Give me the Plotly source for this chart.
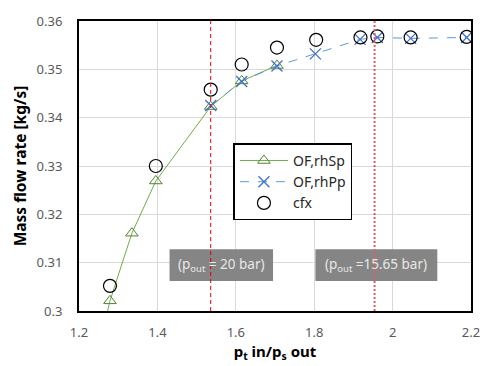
import plotly.graph_objects as go

# data
rhsp_x = [1.245, 1.279, 1.335, 1.396, 1.536, 1.615, 1.705]
rhsp_y = [0.2905, 0.3021, 0.3161, 0.3269, 0.3423, 0.3476, 0.3508]
rhpp_x = [1.536, 1.615, 1.705, 1.803, 1.917, 1.961, 2.046, 2.189]
rhpp_y = [0.3425, 0.3475, 0.3507, 0.3532, 0.3562, 0.3566, 0.3564, 0.3566]
cfx_x = [1.279, 1.396, 1.536, 1.615, 1.705, 1.805, 1.918, 1.961, 2.046, 2.189]
cfx_y = [0.3052, 0.3300, 0.3458, 0.3510, 0.3545, 0.3561, 0.3566, 0.3568, 0.3566, 0.3567]
pout_lines = [1.536, 1.954]
pout_labels = ["(p<sub>out</sub> = 20 bar)", "(p<sub>out</sub> =15.65 bar)"]
label_x = [1.563, 1.9585]
label_w = [0.264, 0.311]
label_y = 0.3095

FONT = "Noto Sans"
fig = go.Figure()
fig.add_trace(go.Scatter(x=rhsp_x, y=rhsp_y, mode="lines+markers", name="OF,rhSp",
                         line=dict(color="#70ad47", width=1),
                         marker=dict(symbol="triangle-up-open", size=11, color="#548235",
                                     line=dict(width=1))))
fig.add_trace(go.Scatter(x=rhpp_x, y=rhpp_y, mode="lines+markers", name="OF,rhPp",
                         line=dict(color="#5b9bd5", width=1, dash="dash"),
                         marker=dict(symbol="x-thin-open", size=11, color="#4472c4",
                                     line=dict(width=1.3, color="#4472c4"))))
fig.add_trace(go.Scatter(x=cfx_x, y=cfx_y, mode="markers", name="cfx",
                         marker=dict(symbol="circle-open", size=13, color="black",
                                     line=dict(width=1.2))))

shapes = []
for cx, w in zip(label_x, label_w):
    shapes.append(dict(type="rect", xref="x", yref="y", x0=cx - w / 2, x1=cx + w / 2,
                       y0=label_y - 0.0033, y1=label_y + 0.0033,
                       fillcolor="#858585", line=dict(width=0), layer="above"))
shapes.append(dict(type="line", xref="x", yref="paper", x0=pout_lines[0], x1=pout_lines[0],
                   y0=0, y1=1, line=dict(color="#e00000", width=1, dash="4px,3px"), layer="above"))
shapes.append(dict(type="line", xref="x", yref="paper", x0=pout_lines[1], x1=pout_lines[1],
                   y0=0, y1=1, line=dict(color="#e06060", width=2, dash="2px,2px"), layer="above"))

annotations = []
for cx, t in zip(label_x, pout_labels):
    annotations.append(dict(x=cx, y=label_y, xref="x", yref="y", text=t, showarrow=False,
                            font=dict(family=FONT, size=13.5, color="#e8e8e8")))

fig.update_layout(
    width=492, height=366,
    margin=dict(l=79, r=15, t=13, b=52),
    paper_bgcolor="white", plot_bgcolor="white",
    font=dict(family=FONT, color="#595959", size=12),
    showlegend=True,
    legend=dict(x=0.394, y=0.578, xanchor="left", yanchor="top",
                bordercolor="black", borderwidth=1.5, bgcolor="white",
                font=dict(family=FONT, size=14, color="#262626"),
                itemwidth=48, tracegroupgap=0),
    shapes=shapes, annotations=annotations,
    xaxis=dict(range=[1.2, 2.2], dtick=0.2, showgrid=True, gridcolor="#d9d9d9",
               gridwidth=1, showline=True, linecolor="black", linewidth=2, mirror=True,
               zeroline=False, ticks="", ticklabelstandoff=8,
               tickfont=dict(family=FONT, size=13, color="#595959"),
               title=dict(text="<b>p<sub>t</sub> in/p<sub>s</sub> out</b>", standoff=3,
                          font=dict(family=FONT, size=15, color="black"))),
    yaxis=dict(range=[0.30, 0.36], dtick=0.01, showgrid=True, gridcolor="#d9d9d9",
               gridwidth=1, showline=True, linecolor="black", linewidth=2, mirror=True,
               zeroline=False, ticks="", ticklabelstandoff=12,
               tickfont=dict(family=FONT, size=13, color="#595959"),
               title=dict(text="<b>Mass flow rate [kg/s]</b>", standoff=6,
                          font=dict(family=FONT, size=15.5, color="black"))),
)
fig.write_html("out.html")
